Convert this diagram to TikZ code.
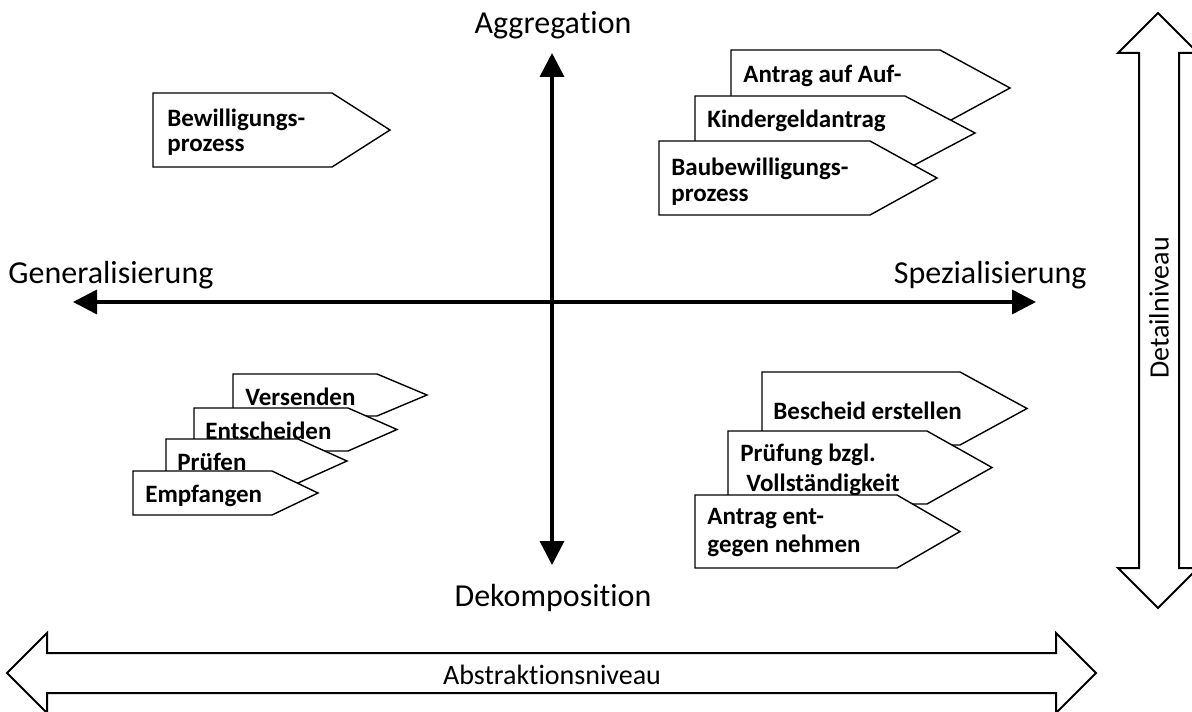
\documentclass[tikz,border=0pt]{standalone}
\usepackage{fontspec}
\setmainfont{Carlito}[Ligatures={NoCommon}]
\usetikzlibrary{arrows.meta}

% process step drawn as a pentagon: left, top, right end of body, tip x, bottom
\newcommand\procbox[5]{%
  \draw[box] (#1,#2) -- (#3,#2) -- (#4,{(#2+#5)/2}) -- (#3,#5) -- (#1,#5) -- cycle;}

\begin{document}
\begin{tikzpicture}[x=0.5pt,y=-0.5pt,
  box/.style={draw=black, line width=0.7pt, fill=white, line join=miter},
  boxtext/.style={anchor=west, inner sep=0pt, align=left,
    font=\fontsize{12.5}{13}\selectfont\bfseries},
  axisline/.style={line width=1.8pt,
    {Triangle[length=12pt,width=12pt]}-{Triangle[length=12pt,width=12pt]}},
  axislabel/.style={inner sep=0pt, font=\fontsize{16}{19}\selectfont},
  block/.style={draw=black, line width=1pt, fill=white, line join=miter},
  blocklabel/.style={inner sep=0pt, font=\fontsize{14}{17}\selectfont}]

\useasboundingbox (0,0) rectangle (1192,711);

% ---- axes ----
\coordinate (top) at (552,53);
\coordinate (bottom) at (552,565);
\coordinate (left) at (73,302);
\coordinate (right) at (1036,302);
\draw[axisline] (bottom) -- (top);
\draw[axisline] (left) -- (right);

\node[axislabel] (agg) at (553,25) {Aggregation};
\node[axislabel] (dek) at (553,598) {Dekomposition};
\node[axislabel, anchor=west] (gen) at (8,275) {Generalisierung};
\node[axislabel, anchor=east] (spez) at (1087,275) {Spezialisierung};

% ---- detail level (vertical double block arrow) ----
\draw[block] (1158,13) -- (1198,53) -- (1179,53) -- (1179,568) -- (1198,568)
  -- (1158,608) -- (1118,568) -- (1139,568) -- (1139,53) -- (1118,53) -- cycle;
\node[blocklabel, rotate=90] (detail) at (1159,308) {Detailniveau};

% ---- abstraction level (horizontal double block arrow) ----
\draw[block] (7,673) -- (47,633) -- (47,653) -- (1056,653) -- (1056,633)
  -- (1096,673) -- (1056,713) -- (1056,693) -- (47,693) -- (47,713) -- cycle;
\node[blocklabel] (abstr) at (552,675) {Abstraktionsniveau};

% ---- upper left: general, aggregated ----
\procbox{153}{93}{332}{390}{167}
\node[boxtext, font=\fontsize{12.5}{12.5}\selectfont\bfseries] (bew) at (167,132)
  {Bewilligungs-\\prozess};

% ---- upper right: specialised, aggregated ----
\procbox{731}{50}{940}{1010}{126}
\node[boxtext] (auf) at (743,76) {Antrag auf Auf-};
\procbox{695}{96}{905}{975}{170}
\node[boxtext] (kind) at (707,121) {Kindergeldantrag};
\procbox{659}{141}{870}{937}{215}
\node[boxtext, font=\fontsize{12.5}{13}\selectfont\bfseries] (bau) at (671,182)
  {Baubewilligungs-\\prozess};

% ---- lower left: general, decomposed ----
\procbox{233}{374}{377}{427}{416}
\node[boxtext] (vers) at (245,397) {Versenden};
\procbox{194}{408}{348}{397}{451}
\node[boxtext] (ents) at (205,431) {Entscheiden};
\procbox{166}{439}{298}{347}{483}
\node[boxtext] (pruef) at (177,462) {Prüfen};
\procbox{133}{471}{272}{318}{515}
\node[boxtext] (empf) at (145,496) {Empfangen};

% ---- lower right: specialised, decomposed ----
\procbox{762}{372}{960}{1027}{445}
\node[boxtext] (besch) at (773,411) {Bescheid erstellen};
\procbox{728}{431}{927}{992}{504}
\node[boxtext, font=\fontsize{12.5}{15}\selectfont\bfseries] (voll) at (740,470)
  {Prüfung bzgl.\\\hspace*{3pt}Vollständigkeit};
\procbox{695}{495}{897}{960}{568}
\node[boxtext, font=\fontsize{12.5}{14}\selectfont\bfseries] (entg) at (707,533)
  {Antrag ent-\\gegen nehmen};

\end{tikzpicture}
\end{document}
